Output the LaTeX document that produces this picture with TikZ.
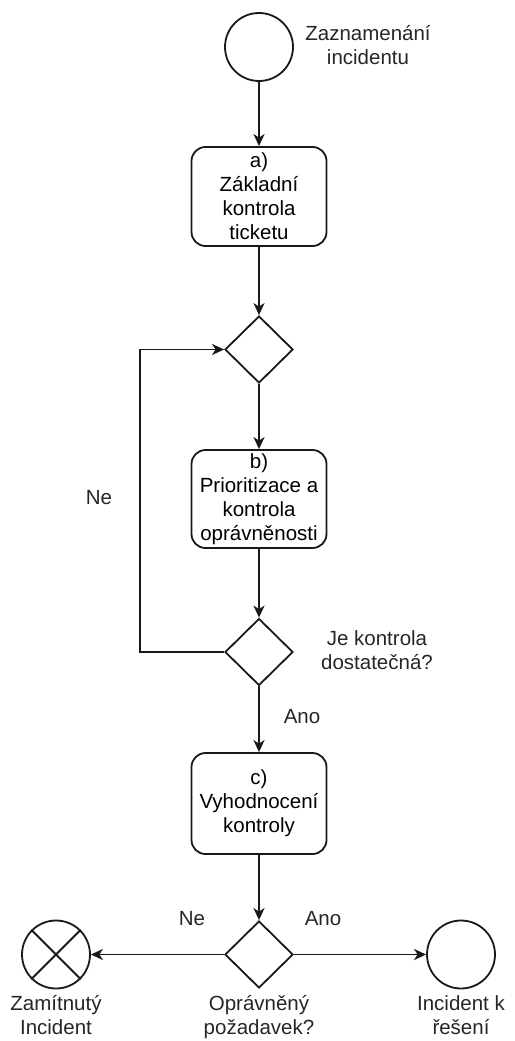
\documentclass[tikz,border=0pt]{standalone}
\usepackage{fontspec}
\setmainfont{Liberation Sans}
\usetikzlibrary{shapes.geometric,arrows.meta}

\tikzset{
  base/.style={draw=black!90, line width=1.8pt, fill=white, inner sep=0pt},
  event/.style={base, circle, minimum size=68pt},
  task/.style={base, rectangle, rounded corners=14pt, minimum width=135pt,
               align=center, font=\fontsize{20.5}{24}\selectfont},
  gate/.style={base, diamond, minimum width=68pt, minimum height=67pt},
  lbl/.style={align=center, font=\fontsize{20.5}{24}\selectfont, text=black!85},
  flow/.style={draw=black!90, line width=1.8pt,
               -{Stealth[length=12pt,width=11pt,inset=3.5pt]}},
}

\begin{document}
\begin{tikzpicture}[x=1pt, y=-1pt]
  \useasboundingbox (0,0) rectangle (514,1041);

  % events and tasks down the main line
  \node[event] (start) at (259,47) {};
  \node[lbl] (startlbl) at (368,45) {Zaznamenání\\incidentu};

  \node[task, minimum height=99pt] (a) at (259,196.5)
    {a)\\Základní\\kontrola\\ticketu};

  \node[gate] (d1) at (259,349.5) {};

  \node[task, minimum height=98pt] (b) at (259,499)
    {b)\\Prioritizace a\\kontrola\\oprávněnosti};

  \node[gate] (d2) at (259,652) {};
  \node[lbl] (d2lbl) at (377,650) {Je kontrola\\dostatečná?};

  \node[task, minimum height=101pt] (c) at (259,803.5)
    {c)\\Vyhodnocení\\kontroly};

  \node[gate] (d3) at (259,954.5) {};
  \node[lbl, anchor=north] (d3lbl) at (259,992) {Oprávněný\\požadavek?};

  % end events
  \node[event] (rej) at (56,954.5) {};
  \draw[line width=1.8pt, draw=black!90] (rej.45) -- (rej.225) (rej.135) -- (rej.315);
  \node[lbl, anchor=north] (rejlbl) at (56,992) {Zamítnutý\\Incident};

  \node[event] (ok) at (461,954.5) {};
  \node[lbl, anchor=north] (oklbl) at (461,992) {Incident k\\řešení};

  % sequence flows
  \draw[flow] (start) -- (a);
  \draw[flow] (a) -- (d1);
  \draw[flow] (d1) -- (b);
  \draw[flow] (b) -- (d2);
  \draw[flow] (d2) -- (c);
  \draw[flow] (c) -- (d3);
  \draw[flow] (d3.west) -- (rej.east);
  \draw[flow] (d3.east) -- (ok.west);

  % loop back when the check is not sufficient
  \coordinate (loop) at (140,500);
  \draw[flow] (d2.west) -- (d2.west -| loop) -- (d1.west -| loop) -- (d1.west);

  % flow labels
  \node[lbl] (ne1) at (99,498) {Ne};
  \node[lbl] (ano1) at (302,717) {Ano};
  \node[lbl] (ne2) at (192,919) {Ne};
  \node[lbl] (ano2) at (323,919) {Ano};
\end{tikzpicture}
\end{document}
